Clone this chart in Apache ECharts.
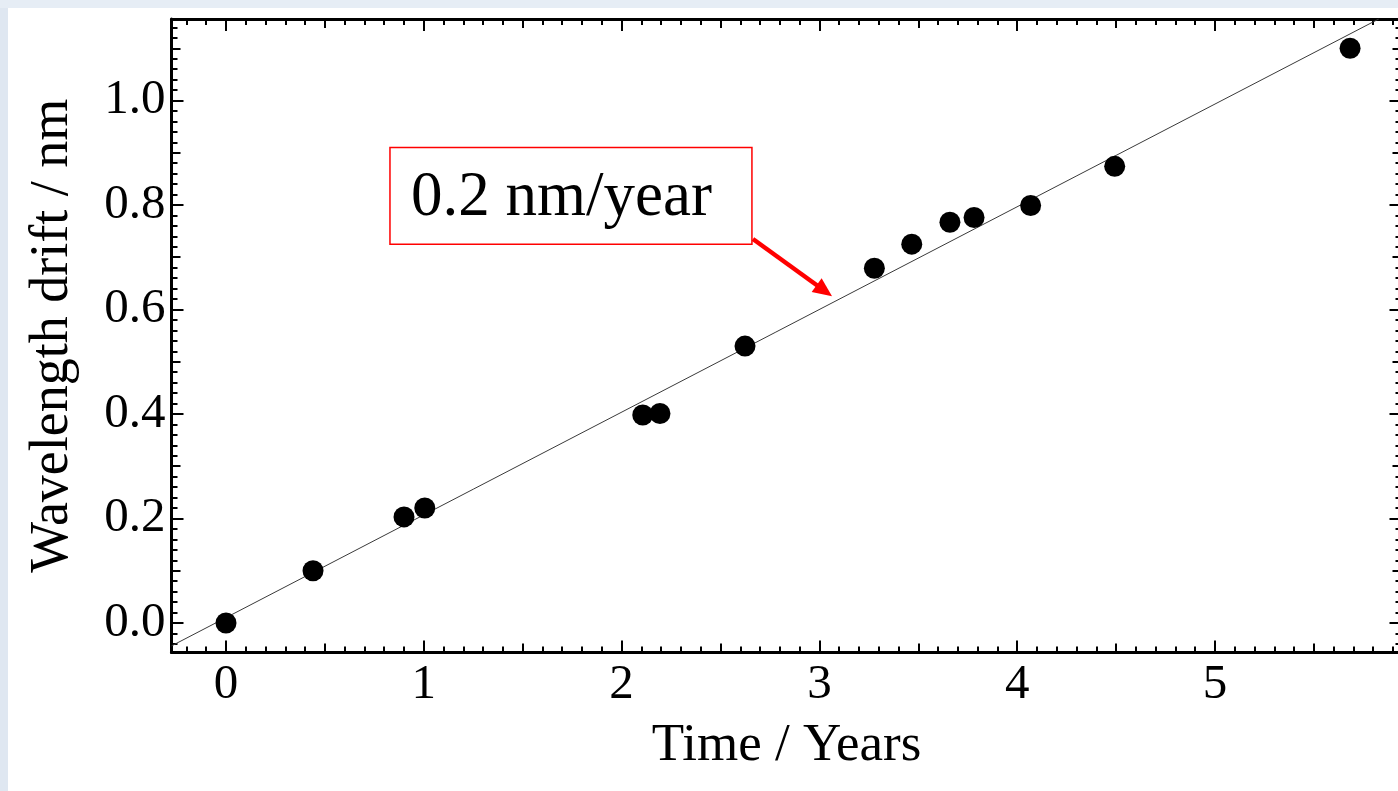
<!DOCTYPE html>
<html>
<head>
<meta charset="utf-8">
<style>
  html, body { margin: 0; padding: 0; background: #ffffff; }
  #chart { width: 1398px; height: 791px; }
</style>
<script src="https://cdn.jsdelivr.net/npm/echarts@6/dist/echarts.min.js"></script>
</head>
<body>
<div id="chart"></div>
<script>
// ---- data ----
const timeYears = [0.00, 0.44, 0.90, 1.005, 2.107, 2.194, 2.624, 3.278, 3.467, 3.660, 3.782, 4.068, 4.493, 5.683];
const driftNm   = [0.000, 0.100, 0.203, 0.220, 0.398, 0.401, 0.530, 0.679, 0.725, 0.767, 0.776, 0.799, 0.874, 1.100];
// fitted line (0.2 nm/year), endpoints where it meets the frame
const fitLine = [[-0.2755, -0.0439], [5.828, 1.156]];
// axis tick labels
const xMajorTicks = [0, 1, 2, 3, 4, 5];
const yMajorTicks = [0.0, 0.2, 0.4, 0.6, 0.8, 1.0];
// annotation, anchored in data coordinates
const annotationText = '0.2 nm/year';
const annotationBox = [[0.829, 0.910], [2.659, 0.725]];   // top-left, bottom-right
const annotationArrow = [[2.664, 0.735], [3.064, 0.6255]]; // start, tip
const xTitle = 'Time / Years';
const yTitle = 'Wavelength drift / nm';

// ---- axis ranges ----
const X_MIN = -0.2755, X_MAX = 5.943;
const Y_MIN = -0.0565, Y_MAX = 1.156;

function steps(lo, hi, step) {
  const out = [];
  const n0 = Math.ceil(lo / step - 1e-9), n1 = Math.floor(hi / step + 1e-9);
  for (let i = n0; i <= n1; i++) out.push(+(i * step).toFixed(4));
  return out;
}
const xMid = steps(X_MIN, X_MAX, 0.5);
const xMinor = steps(X_MIN, X_MAX, 0.1);
const yMid = steps(Y_MIN, Y_MAX, 0.1);
const yMinor = steps(Y_MIN, Y_MAX, 0.02);

const FONT = '"Liberation Serif", "Times New Roman", serif';
const scatterData = timeYears.map((t, i) => [t, driftNm[i]]);

const noLine = { show: false, onZero: false };
const frameLine = { show: true, onZero: false, lineStyle: { color: '#000', width: 3 } };

function xAx(position, ticks, len, opts) {
  return Object.assign({
    type: 'value', position: position, min: X_MIN, max: X_MAX,
    axisLine: noLine,
    axisTick: { show: true, inside: true, length: len, customValues: ticks,
                lineStyle: { color: '#000', width: 2 } },
    axisLabel: { show: false },
    splitLine: { show: false }
  }, opts || {});
}
function yAx(position, ticks, len, opts) {
  return Object.assign({
    type: 'value', position: position, min: Y_MIN, max: Y_MAX,
    axisLine: noLine,
    axisTick: { show: true, inside: true, length: len, customValues: ticks,
                lineStyle: { color: '#000', width: 2 } },
    axisLabel: { show: false },
    splitLine: { show: false }
  }, opts || {});
}

function renderAnnotation(params, api) {
  const p0 = api.coord(annotationBox[0]);
  const p1 = api.coord(annotationBox[1]);
  const a0 = api.coord(annotationArrow[0]);
  const a1 = api.coord(annotationArrow[1]);
  const dx = a1[0] - a0[0], dy = a1[1] - a0[1];
  const L = Math.sqrt(dx * dx + dy * dy);
  const ux = dx / L, uy = dy / L, nx = -uy, ny = ux;
  const headLen = 19, headHalf = 8.5;
  const bx = a1[0] - ux * headLen, by = a1[1] - uy * headLen;
  const boxH = p1[1] - p0[1];
  return {
    type: 'group',
    children: [
      { type: 'rect', shape: { x: p0[0], y: p0[1], width: p1[0] - p0[0], height: boxH },
        style: { fill: '#ffffff', stroke: '#ff0000', lineWidth: 1.5 } },
      { type: 'text', x: p0[0] + 21, y: p0[1] + boxH * 0.525,
        style: { text: annotationText, font: '63px ' + FONT, fill: '#000',
                 align: 'left', verticalAlign: 'middle' } },
      { type: 'line', shape: { x1: a0[0], y1: a0[1], x2: bx + ux * 2, y2: by + uy * 2 },
        style: { stroke: '#ff0000', lineWidth: 4.5 } },
      { type: 'polygon',
        shape: { points: [[a1[0], a1[1]], [bx + nx * headHalf, by + ny * headHalf],
                          [bx - nx * headHalf, by - ny * headHalf]] },
        style: { fill: '#ff0000' } }
    ]
  };
}

const option = {
  animation: false,
  backgroundColor: '#ffffff',
  grid: { left: 171.5, top: 19, width: 1230, height: 633.5,
          containLabel: false, outerBoundsMode: 'none' },
  xAxis: [
    xAx('bottom', xMajorTicks, 12, {
      axisLine: frameLine,
      axisLabel: { show: true, customValues: xMajorTicks, margin: 8,
                   fontFamily: FONT, fontSize: 49, color: '#000' },
      name: xTitle, nameLocation: 'middle', nameGap: 67,
      nameTextStyle: { fontFamily: FONT, fontSize: 53, color: '#000' }
    }),
    xAx('bottom', xMid, 9),
    xAx('bottom', xMinor, 6),
    xAx('top', xMajorTicks, 12, { axisLine: frameLine }),
    xAx('top', xMid, 9),
    xAx('top', xMinor, 6)
  ],
  yAxis: [
    yAx('left', yMajorTicks, 12, {
      axisLine: frameLine,
      axisLabel: { show: true, customValues: yMajorTicks, margin: 6,
                   fontFamily: FONT, fontSize: 49, color: '#000',
                   formatter: v => v.toFixed(1) },
      name: yTitle, nameLocation: 'middle', nameGap: 92,
      nameTextStyle: { fontFamily: FONT, fontSize: 54, color: '#000' }
    }),
    yAx('left', yMid, 9),
    yAx('left', yMinor, 6),
    yAx('right', yMajorTicks, 12, { axisLine: frameLine }),
    yAx('right', yMid, 9),
    yAx('right', yMinor, 6)
  ],
  series: [
    {
      type: 'line', xAxisIndex: 0, yAxisIndex: 0,
      data: fitLine, symbol: 'none', silent: true,
      lineStyle: { color: '#3a3a3a', width: 1 }, z: 2
    },
    {
      type: 'scatter', xAxisIndex: 0, yAxisIndex: 0,
      data: scatterData, symbol: 'circle', symbolSize: 21,
      itemStyle: { color: '#000', opacity: 1 }, z: 3
    },
    {
      type: 'custom', xAxisIndex: 0, yAxisIndex: 0, silent: true, clip: false,
      data: [[annotationBox[0][0], annotationBox[0][1]]],
      renderItem: renderAnnotation, z: 10
    }
  ],
  graphic: [
    { type: 'rect', z: -10, shape: { x: 0, y: 0, width: 8, height: 791 },
      style: { fill: '#dfe7f1' } },
    { type: 'rect', z: -10, shape: { x: 0, y: 0, width: 1398, height: 8 },
      style: { fill: '#e6edf5' } }
  ]
};

const chart = echarts.init(document.getElementById('chart'), null, { renderer: 'canvas' });
chart.setOption(option);
</script>
</body>
</html>
